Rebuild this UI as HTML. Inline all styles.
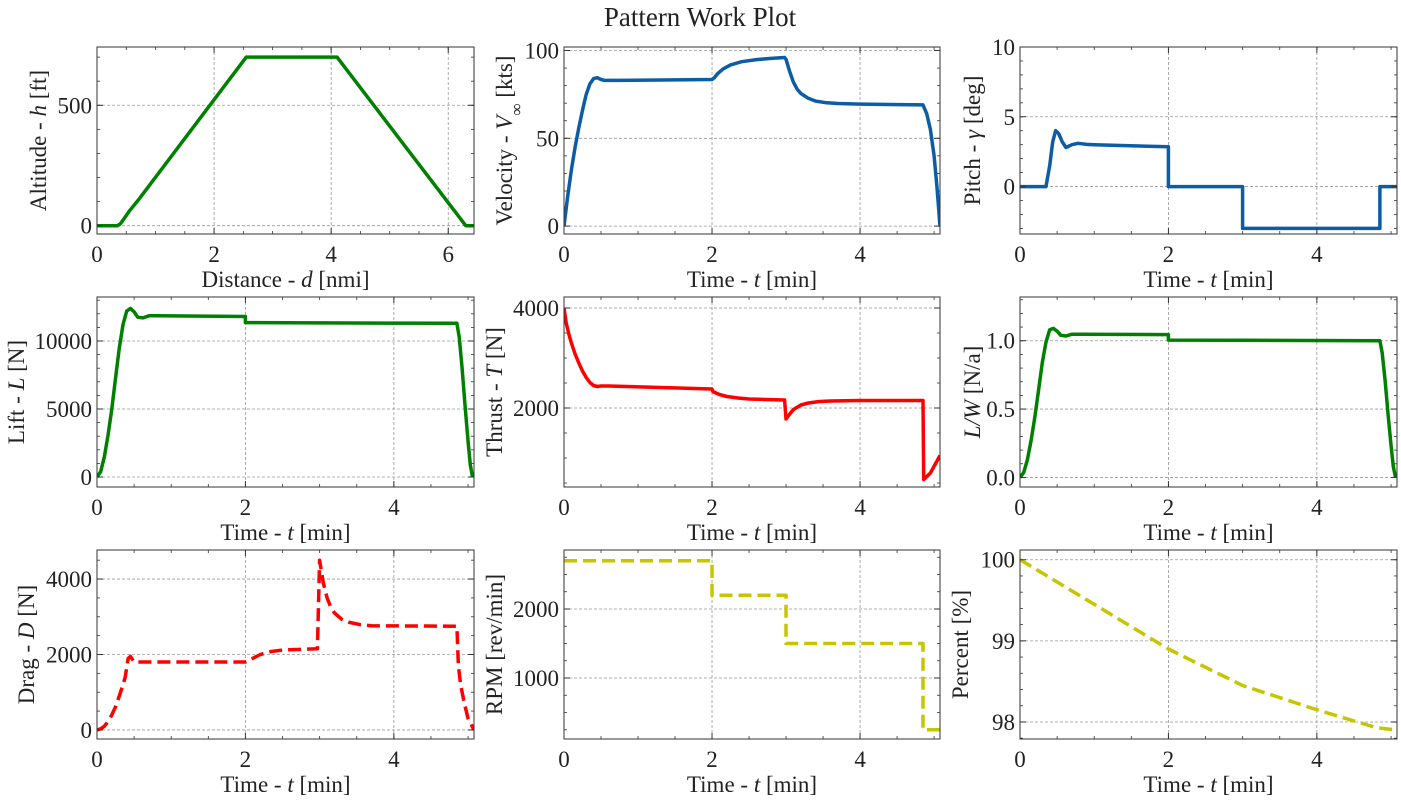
<!DOCTYPE html>
<html><head><meta charset="utf-8"><style>
body{margin:0;background:#fff;}
svg, svg text, svg tspan{font-family:'Liberation Serif','DejaVu Serif','Noto Serif CJK SC',serif;}
</style></head><body>
<svg id="fig" width="1401" height="801" viewBox="0 0 1401 801">
<text x="700" y="26" text-anchor="middle" font-size="27" fill="#222">Pattern Work Plot</text>
</svg>
<script>
// ---- data ----
const altX = [0,0.35,0.4,0.45,0.55,0.7,2.55,4.1,6.3,6.44];
const altY = [0,0,8,25,60,105,700,700,0,0];
const velT = [0,0.05,0.1,0.15,0.2,0.25,0.3,0.35,0.4,0.45,0.5,0.55,0.7,2.0,2.03,2.08,2.15,2.25,2.4,2.6,2.8,2.98,3.0,3.05,3.1,3.15,3.2,3.3,3.4,3.55,3.7,4.0,4.85,4.9,4.95,5.0,5.04,5.08];
const velV = [0,17,32,45,56,66,75,81,84,84.5,83.5,83,83,83.5,84.5,87,89.5,91.8,93.6,94.8,95.5,96,95,88,82,78,75.5,72.8,71.2,70.2,69.8,69.5,69,64,55,40,22,0];
const pitT = [0,0.35,0.4,0.44,0.48,0.52,0.57,0.62,0.7,0.78,0.9,1.0,2.0,2.0,3.0,3.0,4.85,4.85,5.08];
const pitV = [0,0,1.5,3.2,4.0,3.8,3.2,2.8,3.0,3.1,3.02,3.0,2.85,0,0,-3,-3,0,0];
const liftT = [0,0.05,0.1,0.15,0.2,0.25,0.3,0.35,0.4,0.45,0.5,0.55,0.62,0.7,0.8,2.0,2.0,3.0,4.85,4.88,4.92,4.96,5.0,5.03,5.06];
const liftV = [0,400,1500,3100,5000,7300,9500,11200,12200,12400,12150,11750,11700,11850,11850,11800,11350,11330,11300,10300,8000,5200,2600,900,0];
const thrT = [0,0.03,0.07,0.1,0.15,0.2,0.25,0.3,0.35,0.4,0.45,0.5,0.6,2.0,2.01,2.1,2.2,2.35,2.5,2.98,3.0,3.05,3.1,3.2,3.3,3.45,3.6,4.0,4.85,4.86,4.95,5.08];
const thrV = [4000,3700,3450,3300,3080,2900,2740,2610,2510,2450,2430,2440,2440,2380,2330,2270,2230,2200,2180,2160,1780,1880,1970,2060,2100,2130,2140,2150,2150,570,700,1050];
const lwT = [0,0.05,0.1,0.15,0.2,0.25,0.3,0.35,0.4,0.45,0.5,0.55,0.62,0.7,0.8,2.0,2.0,3.0,4.85,4.88,4.92,4.96,5.0,5.03,5.06];
const lwV = [0,0.035,0.13,0.27,0.44,0.64,0.84,0.99,1.08,1.09,1.07,1.04,1.035,1.048,1.048,1.045,1.005,1.003,1.0,0.91,0.71,0.46,0.23,0.08,0];
const dragT = [0,0.05,0.1,0.15,0.2,0.25,0.3,0.35,0.38,0.42,0.45,0.5,2.0,2.1,2.2,2.35,2.5,2.97,3.0,3.05,3.1,3.15,3.2,3.3,3.4,3.55,3.7,4.85,4.87,4.9,4.95,5.0,5.08];
const dragV = [0,30,100,230,400,620,900,1200,1400,1900,1950,1800,1800,1900,2000,2080,2120,2150,4500,3900,3500,3250,3100,2930,2850,2790,2760,2750,1700,1200,700,300,0];
const rpmT = [0,2,2,3,3,4.85,4.85,5.08];
const rpmV = [2700,2700,2200,2200,1500,1500,250,250];
const pctT = [0,1,2,3,4,4.8,5.08];
const pctV = [100,99.45,98.9,98.45,98.15,97.93,97.9];
const timeTicks = [0,2,4];
// ---- drawing ----
const NS="http://www.w3.org/2000/svg";
const fig=document.getElementById('fig');
function mk(tag,attrs,parent){const e=document.createElementNS(NS,tag);for(const k in attrs)e.setAttribute(k,attrs[k]);(parent||fig).appendChild(e);return e;}
const cols=[[97,474],[564,940],[1020,1397]];
const rows=[[47,234],[297,487],[550,739]];
function label(el,parts){parts.forEach(p=>{const t=mk('tspan',{},el);if(p[1])t.setAttribute('font-style','italic');if(p[2]){t.setAttribute('baseline-shift','sub');t.setAttribute('font-size','17');}t.textContent=p[0];});}
function panel(o){
  const [L,R]=cols[o.c],[T,B]=rows[o.r];
  const g=mk('g',{});
  
  
  const sx=v=>L+(v-o.xr[0])/(o.xr[1]-o.xr[0])*(R-L);
  const sy=v=>B-(v-o.yr[0])/(o.yr[1]-o.yr[0])*(B-T);
  o.xt.forEach(v=>{const l=mk('line',{x1:sx(v),x2:sx(v),y1:T,y2:B,stroke:'#999','stroke-width':0.8,'stroke-dasharray':'3,2'},g);});
  o.yt.forEach(v=>{const l=mk('line',{x1:L,x2:R,y1:sy(v),y2:sy(v),stroke:'#999','stroke-width':0.8,'stroke-dasharray':'3,2'},g);});
  for(let v=Math.ceil(o.xr[0]/o.xm)*o.xm;v<=o.xr[1]+1e-9;v+=o.xm){const x=sx(v);mk('line',{x1:x,x2:x,y1:B,y2:B-3,stroke:'#333','stroke-width':0.8},g);mk('line',{x1:x,x2:x,y1:T,y2:T+3,stroke:'#333','stroke-width':0.8},g);}
  for(let v=Math.ceil(o.yr[0]/o.ym)*o.ym;v<=o.yr[1]+1e-9;v+=o.ym){const y=sy(v);mk('line',{x1:L,x2:L+3,y1:y,y2:y,stroke:'#333','stroke-width':0.8},g);mk('line',{x1:R,x2:R-3,y1:y,y2:y,stroke:'#333','stroke-width':0.8},g);}
  const pts=o.xs.map((v,i)=>sx(v).toFixed(1)+','+sy(o.ys[i]).toFixed(1)).join(' ');
  const cp='cp'+o.name;
  const clip=mk('clipPath',{id:cp},g);mk('rect',{x:L,y:T,width:R-L,height:B-T},clip);
  const pl=mk('polyline',{points:pts,fill:'none',stroke:o.color,'stroke-width':3.5,'stroke-linejoin':'round','clip-path':'url(#'+cp+')'},g);
  if(o.dash)pl.setAttribute('stroke-dasharray','13,6');
  
  
  mk('rect',{x:L,y:T,width:R-L,height:B-T,fill:'none',stroke:'#333','stroke-width':1},g);
  o.xt.forEach(v=>{const x=sx(v);mk('line',{x1:x,x2:x,y1:B,y2:B-6,stroke:'#333'},g);mk('line',{x1:x,x2:x,y1:T,y2:T+6,stroke:'#333'},g);
    const t=mk('text',{x:x,y:B+28,'text-anchor':'middle','font-size':23,fill:'#222'},g);t.textContent=v;
    });
  o.yt.forEach((v,i)=>{const y=sy(v);mk('line',{x1:L,x2:L+6,y1:y,y2:y,stroke:'#333'},g);mk('line',{x1:R,x2:R-6,y1:y,y2:y,stroke:'#333'},g);
    const t=mk('text',{x:L-5,y:y+8,'text-anchor':'end','font-size':23,fill:'#222'},g);t.textContent=o.ytl?o.ytl[i]:v;
    });
  const xl=mk('text',{x:(L+R)/2,y:B+53,'text-anchor':'middle','font-size':23,fill:'#222'},g);label(xl,o.xl);
  
  const yc=(T+B)/2;
  const yl=mk('text',{x:o.ylx,y:yc,'text-anchor':'middle','font-size':23,fill:'#222',transform:`rotate(-90 ${o.ylx} ${yc})`},g);label(yl,o.yl);
  
}
const tl=[['Time - '],['t',1],[' [min]']];
const TX=[0,5.08];
panel({name:'altitude',c:0,r:0,xr:[0,6.44],yr:[-34.5,742],xt:[0,2,4,6],xm:0.5,yt:[0,500],ym:100,xs:altX,ys:altY,color:'#008000',xl:[['Distance - '],['d',1],[' [nmi]']],yl:[['Altitude - '],['h',1],[' [ft]']],ylx:46});
panel({name:'velocity',c:1,r:0,xr:TX,yr:[-4.5,102],xt:timeTicks,xm:0.5,yt:[0,50,100],ym:10,xs:velT,ys:velV,color:'#0c5da5',xl:tl,yl:[['Velocity - '],['V',1],['∞',0,1],[' [kts]']],ylx:512});
panel({name:'pitch',c:2,r:0,xr:TX,yr:[-3.4,10],xt:timeTicks,xm:0.5,yt:[0,5,10],ym:1,xs:pitT,ys:pitV,color:'#0c5da5',xl:tl,yl:[['Pitch - '],['γ',1],[' [deg]']],ylx:980});
panel({name:'lift',c:0,r:1,xr:TX,yr:[-735,13235],xt:timeTicks,xm:0.5,yt:[0,5000,10000],ym:1000,xs:liftT,ys:liftV,color:'#008000',xl:tl,yl:[['Lift - '],['L',1],[' [N]']],ylx:24});
panel({name:'thrust',c:1,r:1,xr:TX,yr:[420,4220],xt:timeTicks,xm:0.5,yt:[2000,4000],ym:500,xs:thrT,ys:thrV,color:'#ff0000',xl:tl,yl:[['Thrust - '],['T',1],[' [N]']],ylx:502});
panel({name:'lift-to-weight',c:2,r:1,xr:TX,yr:[-0.07,1.32],xt:timeTicks,xm:0.5,yt:[0,0.5,1],ytl:['0.0','0.5','1.0'],ym:0.1,xs:lwT,ys:lwV,color:'#008000',xl:tl,yl:[['L/W',1],[' [N/a]']],ylx:980});
panel({name:'drag',c:0,r:2,xr:TX,yr:[-240,4770],xt:timeTicks,xm:0.5,yt:[0,2000,4000],ym:500,xs:dragT,ys:dragV,color:'#ff0000',dash:1,xl:tl,yl:[['Drag - '],['D',1],[' [N]']],ylx:34});
panel({name:'rpm',c:1,r:2,xr:TX,yr:[116,2855],xt:timeTicks,xm:0.5,yt:[1000,2000],ym:250,xs:rpmT,ys:rpmV,color:'#c5c500',dash:1,xl:tl,yl:[['RPM [rev/min]']],ylx:502});
panel({name:'percent',c:2,r:2,xr:TX,yr:[97.79,100.12],xt:timeTicks,xm:0.5,yt:[98,99,100],ym:0.2,xs:pctT,ys:pctV,color:'#c5c500',dash:1,xl:tl,yl:[['Percent [%]']],ylx:968});
</script>
</body></html>
